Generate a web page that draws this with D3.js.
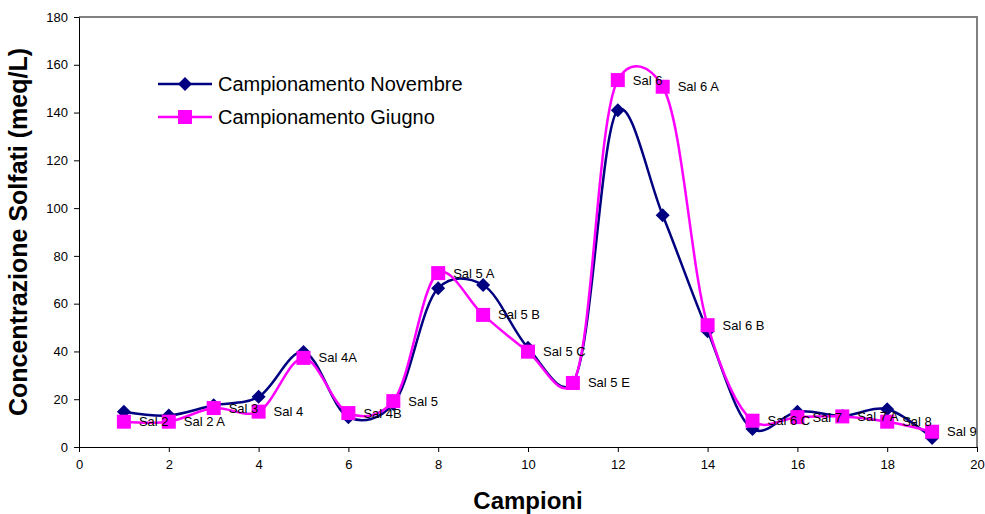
<!DOCTYPE html>
<html>
<head>
<meta charset="utf-8">
<script src="https://cdn.jsdelivr.net/npm/d3@7"></script>
<style>
  body { margin: 0; background: #fff; }
  svg { font-family: Arial, "Liberation Sans", sans-serif; }
</style>
</head>
<body>
<svg width="985" height="514"></svg>
<script>
const campioni = d3.range(1, 20);
const novembre = [14.8, 13.2, 17.5, 21, 39.8, 12.5, 18, 66.5, 67.8, 41.5, 27, 141, 97, 48.5, 7.5, 14.8, 13, 15.8, 3.8];
const giugno = [10.6, 10.6, 16.3, 14.8, 37.3, 14.2, 19.2, 72.8, 55.3, 39.9, 26.8, 153.6, 150.8, 51, 11, 12.5, 12.8, 10.6, 6.4];
const etichette = ["Sal 2", "Sal 2 A", "Sal 3", "Sal 4", "Sal 4A", "Sal 4B", "Sal 5", "Sal 5 A", "Sal 5 B", "Sal 5 C",
    "Sal 5 E", "Sal 6", "Sal 6 A", "Sal 6 B", "Sal 6 C", "Sal 7", "Sal 7 A", "Sal 8", "Sal 9"];
const xTicks = d3.range(0, 21, 2);
const yTicks = d3.range(0, 181, 20);

const svg = d3.select("svg");
const x = d3.scaleLinear().domain([0, 20]).range([79, 977]);
const y = d3.scaleLinear().domain([0, 180]).range([447, 17]);

const navy = "#000080";
const pink = "#ff00ff";

// plot frame (gray top / right)
svg.append("path")
    .attr("d", `M${x(0)},${y(180)}H${x(20)}V${y(0)}`)
    .attr("fill", "none")
    .attr("stroke", "#808080")
    .attr("stroke-width", 2);

// axes
const xAxis = svg.append("g")
    .attr("transform", `translate(0,${y(0)})`)
    .call(d3.axisBottom(x).tickValues(xTicks).tickSize(5).tickPadding(8).tickSizeOuter(0));
const yAxis = svg.append("g")
    .attr("transform", `translate(${x(0)},0)`)
    .call(d3.axisLeft(y).tickValues(yTicks).tickSize(5).tickPadding(6).tickSizeOuter(0));
[xAxis, yAxis].forEach(a => {
    a.selectAll("text").style("font-size", "13px").style("fill", "#000").style("font-family", "Arial, 'Liberation Sans', sans-serif");
    a.selectAll("line, path").attr("stroke", "#000");
});

svg.append("text")
    .attr("x", (x(0) + x(20)) / 2)
    .attr("y", 509)
    .attr("text-anchor", "middle")
    .style("font-size", "24px")
    .style("font-weight", "bold")
    .text("Campioni");

svg.append("text")
    .attr("transform", `translate(27,${(y(0) + y(180)) / 2}) rotate(-90)`)
    .attr("text-anchor", "middle")
    .style("font-size", "25px")
    .style("font-weight", "bold")
    .text("Concentrazione Solfati (meq/L)");

// smoothed lines, a mild catmull-rom like the spreadsheet smoothing
const line = d3.line()
    .x((d, i) => x(campioni[i]))
    .y(d => y(d))
    .curve(d3.curveCatmullRom.alpha(0.25));

function diamond(sel, cx, cy) {
    const r = 7;
    sel.append("path")
        .attr("d", `M${cx},${cy - r}L${cx + r},${cy}L${cx},${cy + r}L${cx - r},${cy}Z`)
        .attr("fill", navy);
}
function square(sel, cx, cy) {
    sel.append("rect")
        .attr("x", cx - 7).attr("y", cy - 7)
        .attr("width", 14).attr("height", 14)
        .attr("fill", pink);
}

// Novembre
svg.append("path")
    .attr("d", line(novembre))
    .attr("fill", "none")
    .attr("stroke", navy)
    .attr("stroke-width", 2.5);
const gN = svg.append("g");
novembre.forEach((v, i) => diamond(gN, x(campioni[i]), y(v)));

// Giugno
svg.append("path")
    .attr("d", line(giugno))
    .attr("fill", "none")
    .attr("stroke", pink)
    .attr("stroke-width", 2.5);
const gG = svg.append("g");
giugno.forEach((v, i) => square(gG, x(campioni[i]), y(v)));

// labels
svg.append("g").selectAll("text")
    .data(giugno)
    .join("text")
    .attr("x", (d, i) => x(campioni[i]) + 15)
    .attr("y", d => y(d))
    .attr("dominant-baseline", "central")
    .style("font-size", "13px")
    .text((d, i) => etichette[i]);

// legend
const legend = svg.append("g");
legend.append("line").attr("x1", 158).attr("x2", 212).attr("y1", 84).attr("y2", 84)
    .attr("stroke", navy).attr("stroke-width", 2.5);
diamond(legend, 185, 84);
legend.append("line").attr("x1", 158).attr("x2", 212).attr("y1", 117).attr("y2", 117)
    .attr("stroke", pink).attr("stroke-width", 2.5);
square(legend, 185, 117);
legend.selectAll("text.lg")
    .data(["Campionamento Novembre", "Campionamento Giugno"])
    .join("text")
    .attr("class", "lg")
    .attr("x", 218)
    .attr("y", (d, i) => 84 + i * 33)
    .attr("dominant-baseline", "central")
    .style("font-size", "20px")
    .text(d => d);
</script>
</body>
</html>
